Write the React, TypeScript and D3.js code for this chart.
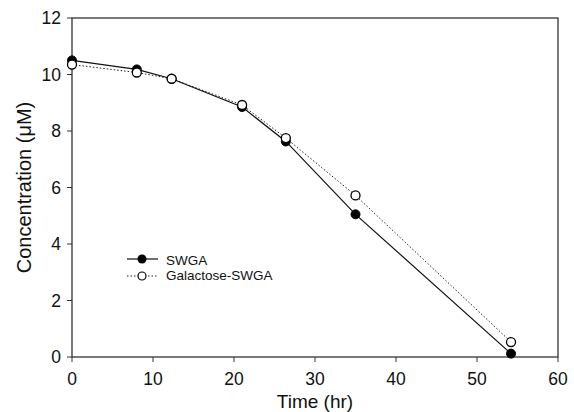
import React from "react";
import * as d3 from "d3";

const timeSWGA = [0, 8, 12.3, 21, 26.4, 35, 54.2];
const concSWGA = [10.5, 10.18, 9.85, 8.85, 7.63, 5.05, 0.12];
const timeGal = [0, 8, 12.3, 21, 26.4, 35, 54.2];
const concGal = [10.35, 10.07, 9.85, 8.92, 7.75, 5.72, 0.53];
const xTicks = [0, 10, 20, 30, 40, 50, 60];
const yTicks = [0, 2, 4, 6, 8, 10, 12];
const legendLabels = ["SWGA", "Galactose-SWGA"];

const W = 574, H = 412;
const L = 72, R = 558, T = 18, B = 357;

export default function App() {
  const x = d3.scaleLinear().domain([0, 60]).range([L, R]);
  const y = d3.scaleLinear().domain([0, 12]).range([B, T]);
  const line = d3.line<[number, number]>().x(d => x(d[0])).y(d => y(d[1]));
  const s1: [number, number][] = timeSWGA.map((t, i) => [t, concSWGA[i]]);
  const s2: [number, number][] = timeGal.map((t, i) => [t, concGal[i]]);
  const font = "Liberation Sans, Arial, sans-serif";
  return (
    <svg width={W} height={H} style={{ position: "absolute", left: 0, top: 0, background: "#fff" }} fontFamily={font}>
      <rect x={0} y={0} width={W} height={H} fill="#fff" />
      <rect x={L} y={T} width={R - L} height={B - T} fill="none" stroke="#333" strokeWidth={1.3} />
      {xTicks.map(t => (
        <g key={"x" + t}>
          <line x1={x(t)} x2={x(t)} y1={B} y2={B + 5} stroke="#333" strokeWidth={1} />
          <text x={x(t)} y={385} fontSize={17.5} textAnchor="middle" fill="#111">{t}</text>
        </g>
      ))}
      {yTicks.map(t => (
        <g key={"y" + t}>
          <line x1={L - 5} x2={L} y1={y(t)} y2={y(t)} stroke="#333" strokeWidth={1} />
          <text x={61} y={y(t) + 6} fontSize={17.5} textAnchor="end" fill="#111">{t}</text>
        </g>
      ))}
      <text x={315} y={408} fontSize={19} textAnchor="middle" fill="#111">Time (hr)</text>
      <text transform={`translate(31,${(T + B) / 2}) rotate(-90)`} fontSize={20} textAnchor="middle" fill="#111">Concentration (μM)</text>
      <path d={line(s2) || ""} fill="none" stroke="#222" strokeWidth={1} strokeDasharray="1.5,2" />
      <path d={line(s1) || ""} fill="none" stroke="#111" strokeWidth={1.2} />
      {s1.map((d, i) => (
        <circle key={"a" + i} cx={x(d[0])} cy={y(d[1])} r={4.5} fill="#000" stroke="#000" strokeWidth={1} />
      ))}
      {s2.map((d, i) => (
        <circle key={"b" + i} cx={x(d[0])} cy={y(d[1])} r={4.5} fill="#fff" stroke="#000" strokeWidth={1.3} />
      ))}
      <g>
        <line x1={127} x2={158} y1={259} y2={259} stroke="#111" strokeWidth={1.2} />
        <circle cx={142} cy={259} r={4.5} fill="#000" />
        <text x={166} y={264.5} fontSize={13.5} fill="#111">{legendLabels[0]}</text>
        <line x1={127} x2={158} y1={276} y2={276} stroke="#222" strokeWidth={1} strokeDasharray="1.5,2" />
        <circle cx={142} cy={276} r={4} fill="#fff" stroke="#000" strokeWidth={1.2} />
        <text x={166} y={280} fontSize={13.5} fill="#111">{legendLabels[1]}</text>
      </g>
    </svg>
  );
}
